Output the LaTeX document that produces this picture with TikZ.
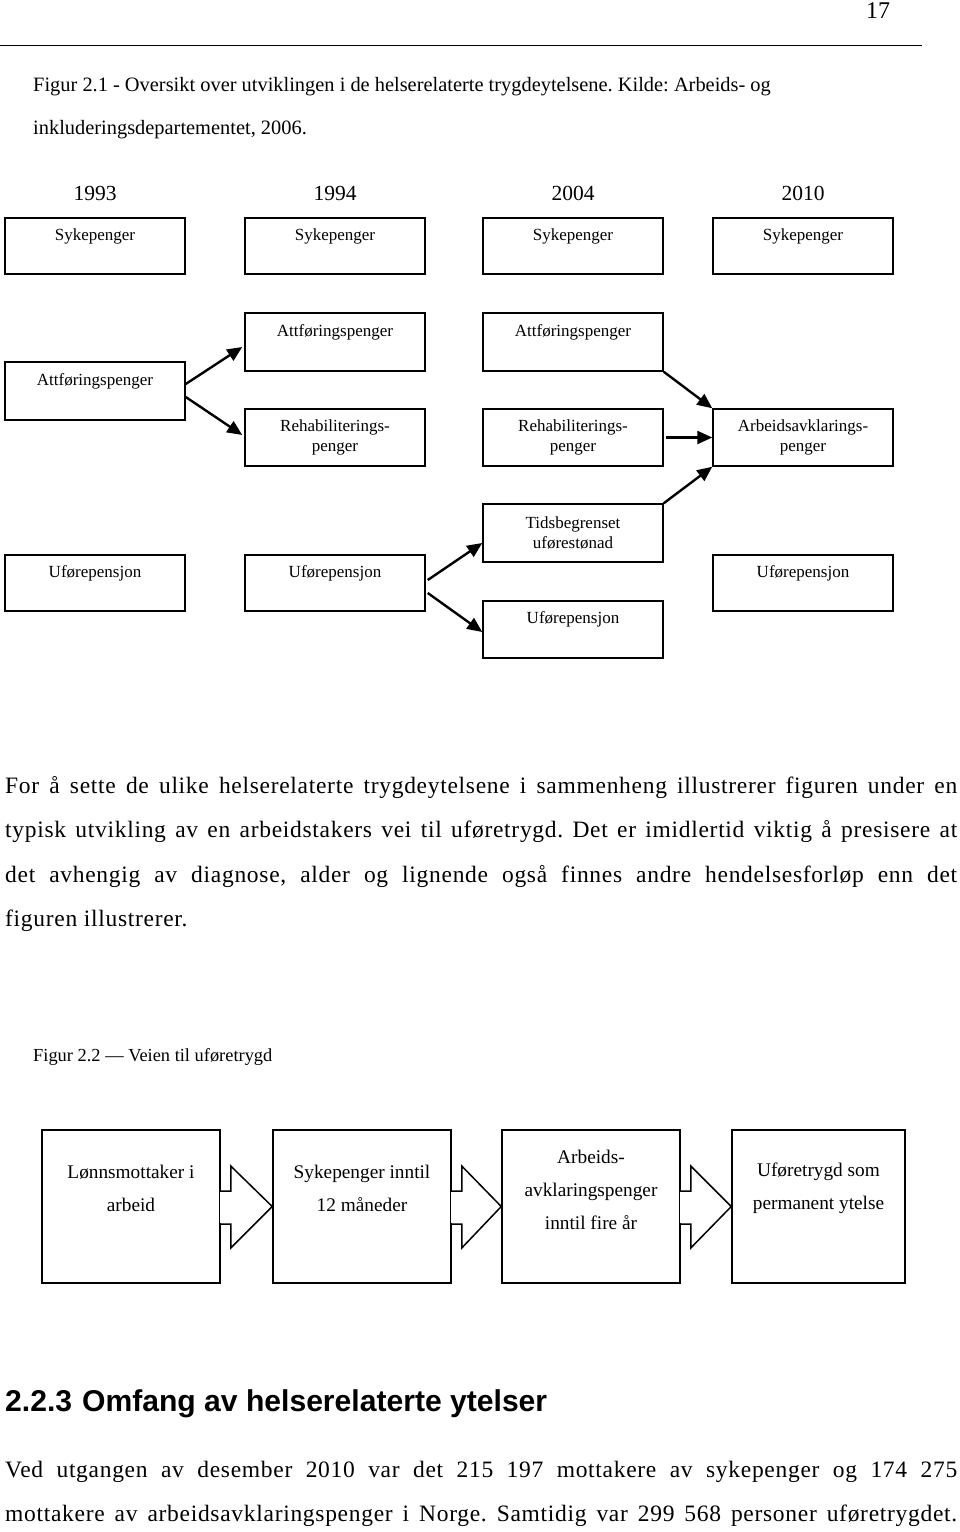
\documentclass[tikz,border=0pt]{standalone}
\usepackage{fontspec}
\setmainfont{Liberation Serif}
\newfontfamily\hsans{Liberation Sans}
\newfontfamily\bodyfont[LetterSpace=3]{Liberation Serif}
\usetikzlibrary{arrows.meta,calc}
\frenchspacing
\begin{document}
\begin{tikzpicture}[x=1pt,y=-1pt,
  box/.style={draw, line width=1.5pt, rectangle, inner sep=0, minimum width=180pt},
  lbl/.style={font=\fontsize{17}{20.5}\selectfont, align=center, inner sep=0},
  yr/.style={font=\fontsize{21.5}{24}\selectfont, inner sep=0},
  arr/.style={line width=2.4pt, -{Triangle[length=15pt,width=13pt]}},
  bigbox/.style={draw, line width=1.5pt, rectangle, inner sep=0, minimum height=153pt},
  lbl2/.style={font=\fontsize{19.3}{33}\selectfont, align=center, inner sep=0},
  outl/.style={line width=1.5pt, line join=miter},
  body/.style={font=\bodyfont\fontsize{23.5}{26}\selectfont, anchor=west, inner sep=0},
  figcap/.style={font=\fontsize{20.4}{24}\selectfont, anchor=west, inner sep=0}
]
\useasboundingbox (0,0) rectangle (960,1532);
% header
\node[font=\fontsize{24}{28}\selectfont, inner sep=0] (pg) at (878,11) {17};
\coordinate (hl0) at (0,45);
\coordinate (hl1) at (922,45);
\draw[line width=0.8pt] (hl0) -- (hl1);
\node[figcap] (c1) at (33,87) {Figur 2.1 - Oversikt over utviklingen i de helserelaterte trygdeytelsene. Kilde: Arbeids- og};
\node[figcap] (c2) at (33,130) {inkluderingsdepartementet, 2006.};
% years
\node[yr] (y1) at (95,193) {1993};
\node[yr] (y2) at (335,193) {1994};
\node[yr] (y3) at (573,193) {2004};
\node[yr] (y4) at (803,193) {2010};
% sykepenger row
\foreach \n/\x in {s1/95,s2/335,s3/573,s4/803}{
  \node[box, minimum height=56pt] (\n) at (\x,246) {};
  \node[lbl] at ([yshift=10pt]\n.center) {Sykepenger};
}
% attforing
\node[box, minimum height=58pt] (a1) at (95,391) {};
\node[lbl] at ([yshift=10pt]a1.center) {Attføringspenger};
\node[box, minimum height=58pt] (a2) at (335,342) {};
\node[lbl] at ([yshift=10pt]a2.center) {Attføringspenger};
\node[box, minimum height=58pt] (a3) at (573,342) {};
\node[lbl] at ([yshift=10pt]a3.center) {Attføringspenger};
% rehab
\node[box, minimum height=57pt] (r2) at (335,437.5) {};
\node[lbl] at (r2.center) {Rehabiliterings-\\penger};
\node[box, minimum height=57pt] (r3) at (573,437.5) {};
\node[lbl] at (r3.center) {Rehabiliterings-\\penger};
\node[box, minimum height=57pt] (ar) at (803,437.5) {};
\node[lbl] at (ar.center) {Arbeidsavklarings-\\penger};
% ufore
\node[box, minimum height=56pt] (u1) at (95,583) {};
\node[lbl] at ([yshift=10pt]u1.center) {Uførepensjon};
\node[box, minimum height=56pt] (u2) at (335,583) {};
\node[lbl] at ([yshift=10pt]u2.center) {Uførepensjon};
\node[box, minimum height=58pt] (t3) at (573,533) {};
\node[lbl] at (t3.center) {Tidsbegrenset\\uførestønad};
\node[box, minimum height=57pt] (u3) at (573,629.5) {};
\node[lbl] at ([yshift=10pt]u3.center) {Uførepensjon};
\node[box, minimum height=56pt] (u4) at (803,583) {};
\node[lbl] at ([yshift=10pt]u4.center) {Uførepensjon};
% arrows
\draw[arr] ([yshift=7pt]a1.east) -- ([xshift=-2pt,yshift=-5pt]a2.west);
\draw[arr] ([yshift=-6pt]a1.east) -- ([xshift=-2pt,yshift=2.5pt]r2.west);
\draw[arr] (a3.south east) -- (ar.north west);
\draw[arr] ([xshift=2pt]r3.east) -- (ar.west);
\draw[arr] (t3.north east) -- (ar.south west);
\draw[arr] ([xshift=2pt,yshift=3pt]u2.east) -- ([yshift=-10pt]t3.west);
\draw[arr] ([xshift=2pt,yshift=-10pt]u2.east) -- ([yshift=-2.5pt]u3.west);
% paragraph
\node[body] (p1) at (5,788) {\makebox[952pt][s]{For å sette de ulike helserelaterte trygdeytelsene i sammenheng illustrerer figuren under en}};
\node[body] (p2) at (5,832) {\makebox[952pt][s]{typisk utvikling av en arbeidstakers vei til uføretrygd. Det er imidlertid viktig å presisere at}};
\node[body] (p3) at (5,877) {\makebox[952pt][s]{det avhengig av diagnose, alder og lignende også finnes andre hendelsesforløp enn det}};
\node[body] (p4) at (5,921) {figuren illustrerer.};
% figure 2.2
\node[figcap, font=\fontsize{18.4}{22}\selectfont] (c3) at (33,1057) {Figur 2.2 --- Veien til uføretrygd};
\node[bigbox, minimum width=178pt] (b1) at (131,1206.5) {};
\node[bigbox, minimum width=178pt] (b2) at (362,1206.5) {};
\node[bigbox, minimum width=178pt] (b3) at (591,1206.5) {};
\node[bigbox, minimum width=173pt] (b4) at (818.5,1206.5) {};
\node[lbl2] at ([yshift=18pt]b1.center) {Lønnsmottaker i\\arbeid};
\node[lbl2] at ([yshift=18pt]b2.center) {Sykepenger inntil\\12 måneder};
\node[lbl2] at ([yshift=17pt]b3.center) {Arbeids-\\avklaringspenger\\inntil fire år};
\node[lbl2] at ([yshift=18pt]b4.center) {Uføretrygd som\\permanent ytelse};
\foreach \a/\b in {b1/b2,b2/b3,b3/b4}{
  \draw[white, line width=2.5pt] ([yshift=14.5pt]\a.east) -- ([yshift=-16.5pt]\a.east);
  \draw[outl] ([yshift=15.5pt]\a.east) -- ([xshift=10pt,yshift=15.5pt]\a.east)
    -- ([xshift=10pt,yshift=40.5pt]\a.east) -- (\b.west)
    -- ([xshift=10pt,yshift=-41.5pt]\a.east) -- ([xshift=10pt,yshift=-17.5pt]\a.east)
    -- ([yshift=-17.5pt]\a.east);
}
% heading
\node[anchor=west, inner sep=0, font=\hsans\bfseries\fontsize{30.1}{35}\selectfont] (h) at (5,1404) {2.2.3\hspace{10pt}Omfang av helserelaterte ytelser};
\node[body] (q1) at (5,1472) {\makebox[952pt][s]{Ved utgangen av desember 2010 var det 215 197 mottakere av sykepenger og 174 275}};
\node[body] (q2) at (5,1516) {\makebox[952pt][s]{mottakere av arbeidsavklaringspenger i Norge. Samtidig var 299 568 personer uføretrygdet.}};
\end{tikzpicture}
\end{document}
